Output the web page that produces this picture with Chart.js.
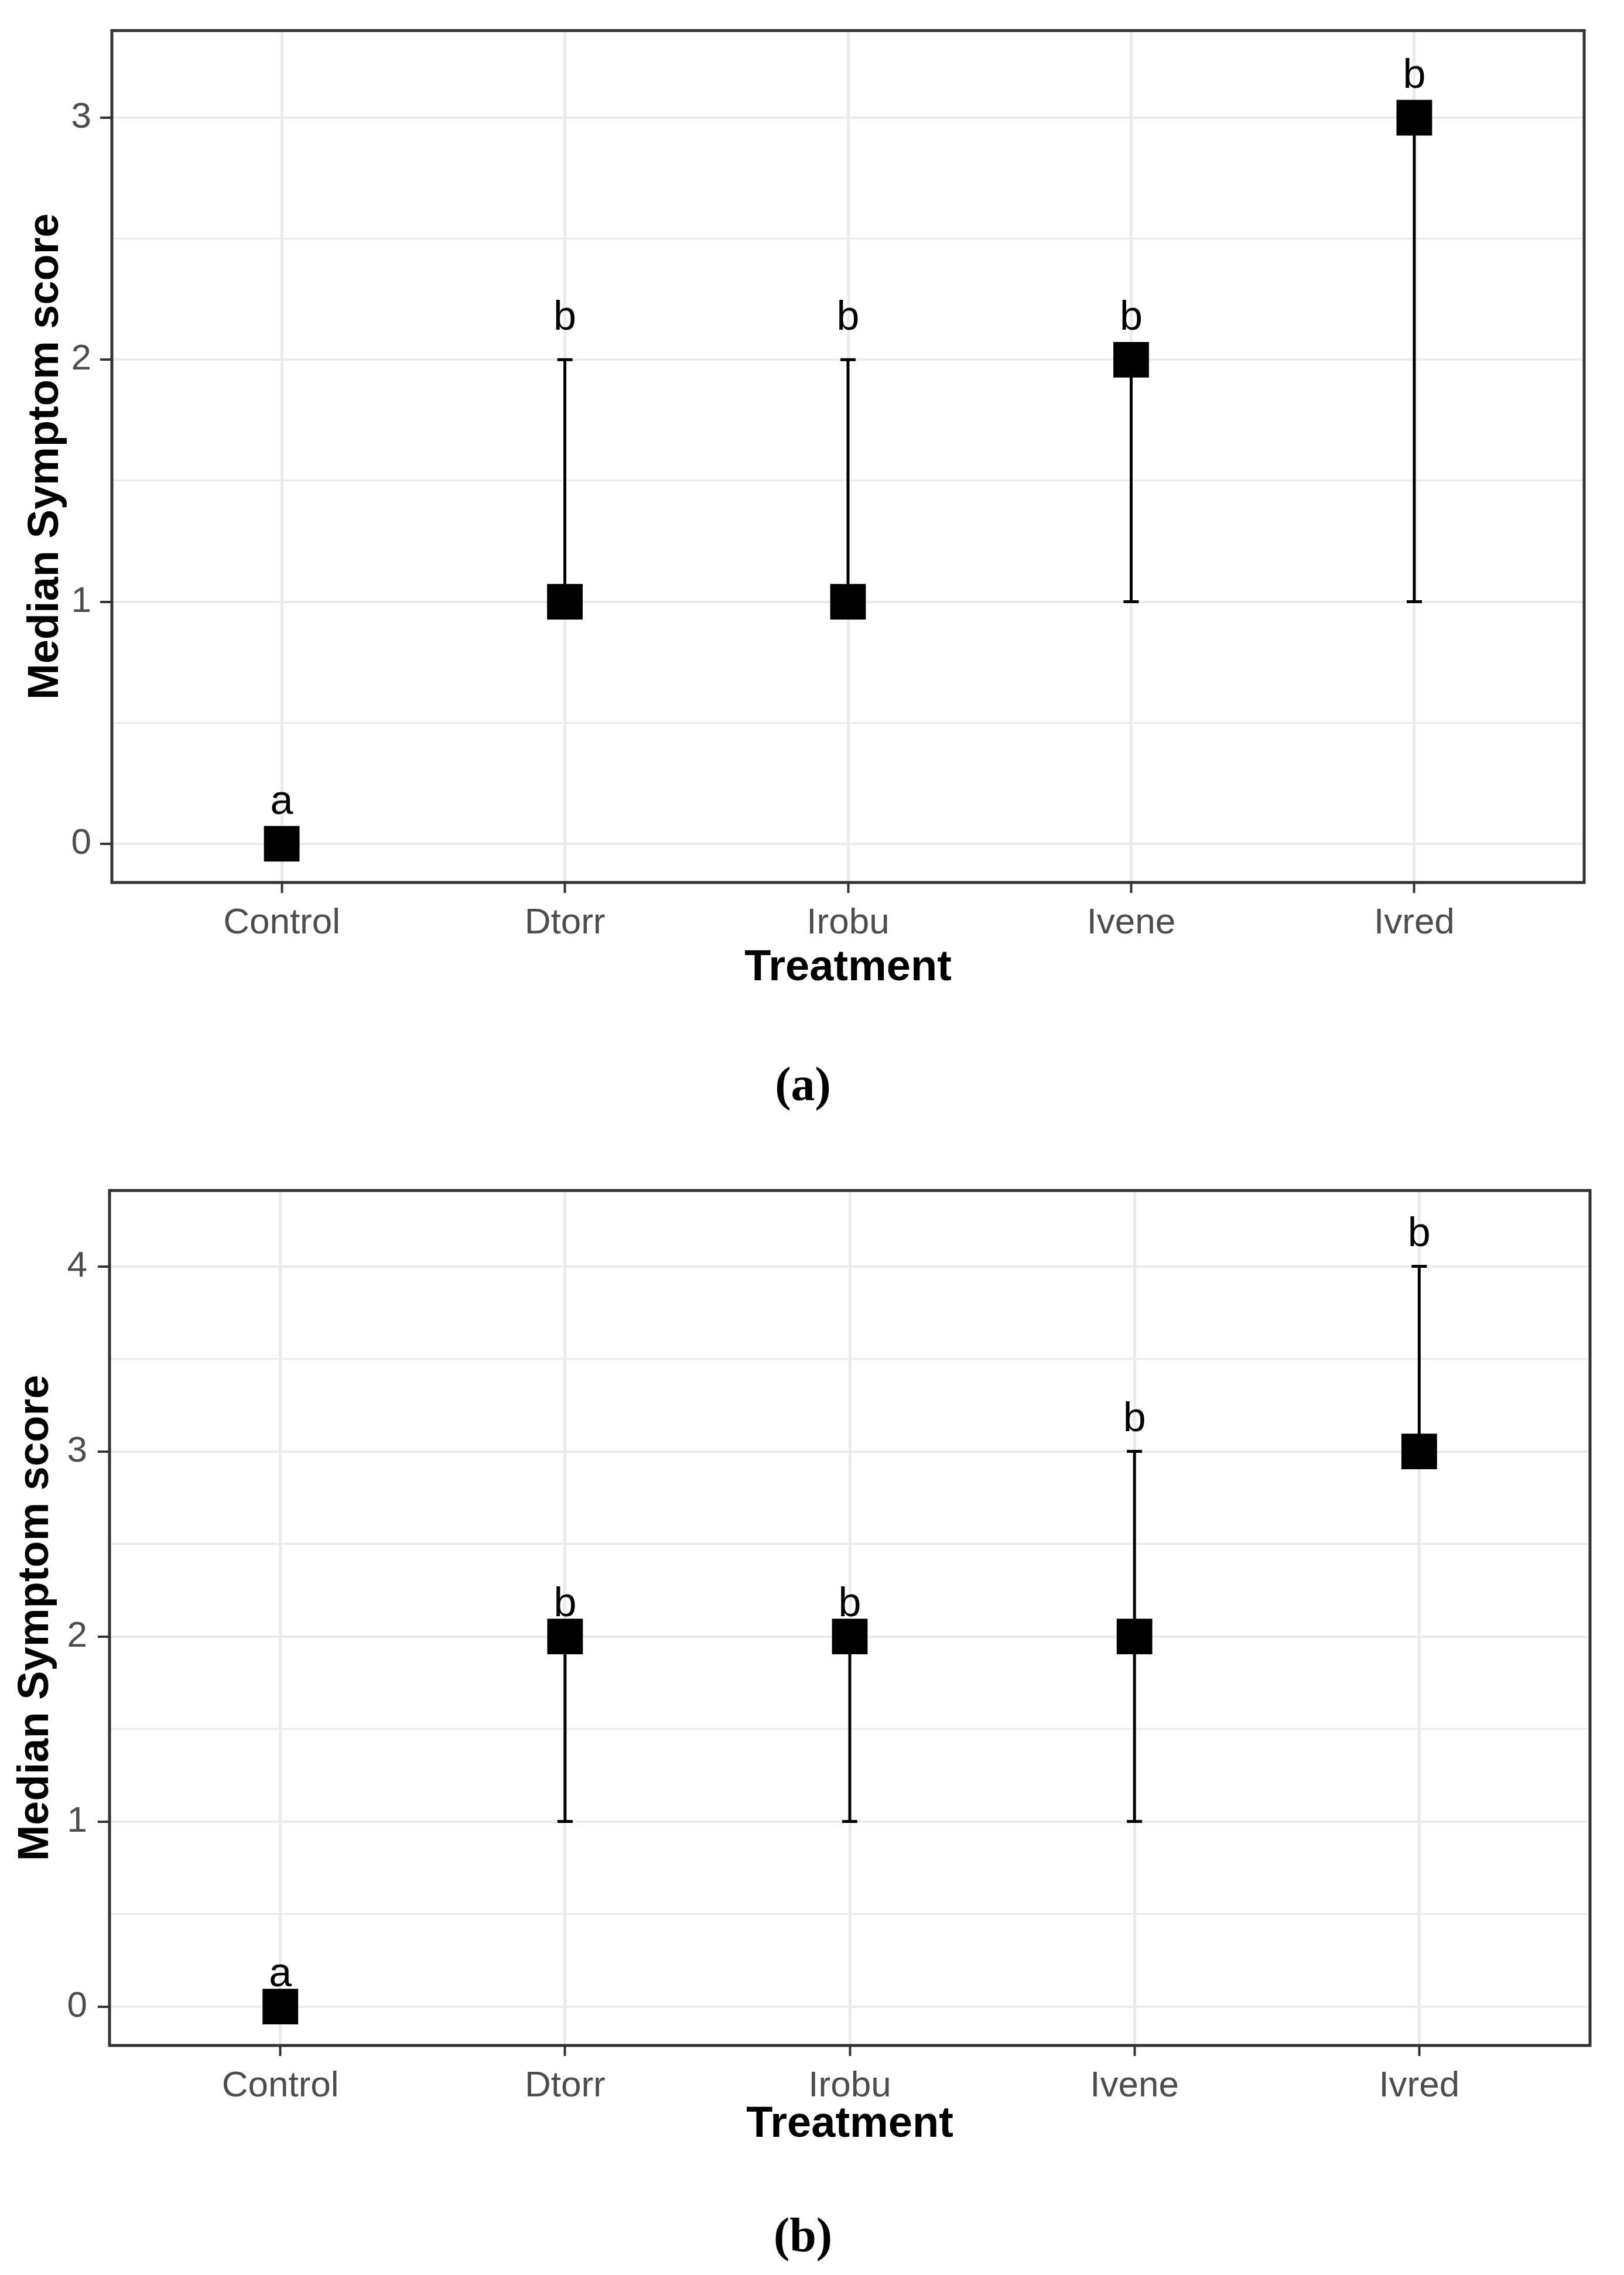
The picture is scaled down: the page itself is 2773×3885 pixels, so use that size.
<!DOCTYPE html>
<html>
<head>
<meta charset="utf-8">
<script src="https://cdn.jsdelivr.net/npm/chart.js@4.4.0/dist/chart.umd.min.js"></script>
<style>
html, body { margin: 0; padding: 0; background: #fff; }
body { width: 2773px; height: 3885px; position: relative; overflow: hidden; }
.panel { position: absolute; left: 0; }
.caption {
  position: absolute; left: 1171px; width: 400px; text-align: center;
  font-family: "Liberation Serif", "DejaVu Serif", serif; font-weight: bold;
  font-size: 82px; line-height: 96px; color: #000;
}
</style>
</head>
<body>
<canvas id="chartA" class="panel" style="top:0px"></canvas>
<div class="caption" style="top:1804px">(a)</div>
<canvas id="chartB" class="panel" style="top:1960px"></canvas>
<div class="caption" style="top:3769px">(b)</div>

<script>
// data
const treatments = ['Control', 'Dtorr', 'Irobu', 'Ivene', 'Ivred']

// panel (a)
const medianA = [0, 1, 1, 2, 3]
const lowA = [0, 1, 1, 1, 1]
const highA = [0, 2, 2, 2, 3]
const lettersA = ['a', 'b', 'b', 'b', 'b']
const letterYA = [0.17, 2.17, 2.17, 2.17, 3.17]
const gridA = [0, 0.5, 1, 1.5, 2, 2.5, 3]

// panel (b)
const medianB = [0, 2, 2, 2, 3]
const lowB = [0, 1, 1, 1, 3]
const highB = [0, 2, 2, 3, 4]
const lettersB = ['a', 'b', 'b', 'b', 'b']
const letterYB = [0.17, 2.17, 2.17, 3.17, 4.17]
const gridB = [0, 0.5, 1, 1.5, 2, 2.5, 3, 3.5, 4]

const SANS = '"Liberation Sans", Arial, sans-serif'

// error bars, letters and panel frame
const errBars = {
  id: 'errbars',
  beforeDatasetsDraw(chart, args, opts) {
    const {ctx, scales: {x, y}} = chart
    ctx.save()
    ctx.strokeStyle = '#000'
    ctx.lineWidth = 5
    opts.low.forEach((lo, i) => {
      const hi = opts.high[i]
      if (lo === hi) return
      const px = x.getPixelForValue(i + 1)
      const y1 = y.getPixelForValue(lo)
      const y2 = y.getPixelForValue(hi)
      ctx.beginPath()
      ctx.moveTo(px, y1); ctx.lineTo(px, y2)
      ctx.moveTo(px - 13, y1); ctx.lineTo(px + 13, y1)
      ctx.moveTo(px - 13, y2); ctx.lineTo(px + 13, y2)
      ctx.stroke()
    })
    ctx.restore()
  },
  afterDatasetsDraw(chart, args, opts) {
    const {ctx, scales: {x, y}} = chart
    ctx.save()
    ctx.fillStyle = '#000'
    ctx.font = '70px ' + SANS
    ctx.textAlign = 'center'
    ctx.textBaseline = 'middle'
    opts.letters.forEach((t, i) => {
      ctx.fillText(t, x.getPixelForValue(i + 1), y.getPixelForValue(opts.letterY[i]))
    })
    ctx.restore()
  },
  afterDraw(chart) {
    const {ctx, chartArea: a} = chart
    ctx.save()
    ctx.strokeStyle = '#333333'
    ctx.lineWidth = 5
    ctx.strokeRect(a.left, a.top, a.right - a.left, a.bottom - a.top)
    ctx.restore()
  }
}

const isMajor = c => c.tick && Number.isInteger(c.tick.value)

function makeChart(id, o) {
  const canvas = document.getElementById(id)
  canvas.width = 2773
  canvas.height = o.height
  canvas.style.width = '2773px'
  canvas.style.height = o.height + 'px'

  return new Chart(canvas, {
    type: 'scatter',
    data: {
      datasets: [{
        data: o.median.map((v, i) => ({x: i + 1, y: v})),
        pointStyle: 'rect',
        pointRadius: 43,
        pointHoverRadius: 43,
        pointBackgroundColor: '#000',
        pointBorderWidth: 0
      }]
    },
    options: {
      responsive: false,
      animation: false,
      devicePixelRatio: 1,
      events: [],
      layout: {padding: {top: o.padTop, right: o.padRight, left: 0, bottom: 0}},
      plugins: {
        legend: {display: false},
        tooltip: {enabled: false},
        errbars: {low: o.low, high: o.high, letters: o.letters, letterY: o.letterY}
      },
      scales: {
        x: {
          type: 'linear',
          min: 0.4,
          max: 5.6,
          afterBuildTicks: s => { s.ticks = treatments.map((t, i) => ({value: i + 1})) },
          afterFit: s => { s.height = o.xAxisH },
          border: {display: false},
          grid: {color: '#EBEBEB', lineWidth: 5, tickLength: 18, tickColor: '#333333', tickWidth: 4},
          ticks: {
            callback: v => treatments[v - 1],
            color: '#4D4D4D',
            font: {family: SANS, size: 62},
            padding: 15,
            maxRotation: 0,
            autoSkip: false
          },
          title: {
            display: true, text: 'Treatment', color: '#000',
            font: {family: SANS, size: 74, weight: 'bold'},
            padding: 0
          }
        },
        y: {
          type: 'linear',
          min: o.yMin,
          max: o.yMax,
          afterBuildTicks: s => { s.ticks = o.grid.map(v => ({value: v})) },
          afterFit: s => { s.width = o.yAxisW },
          border: {display: false},
          grid: {
            color: '#EBEBEB',
            lineWidth: c => isMajor(c) ? 4 : 3,
            tickLength: 20,
            tickColor: c => isMajor(c) ? '#333333' : 'rgba(0,0,0,0)',
            tickWidth: 4
          },
          ticks: {
            callback: v => Number.isInteger(v) ? String(v) : '',
            color: '#4D4D4D',
            font: {family: SANS, size: 62},
            padding: o.yTickPad,
            autoSkip: false
          },
          title: {
            display: true, text: 'Median Symptom score', color: '#000',
            font: {family: SANS, size: 74, weight: 'bold'},
            padding: {top: o.yTitlePad, bottom: 0}
          }
        }
      }
    },
    plugins: [errBars]
  })
}

makeChart('chartA', {
  height: 1698, padTop: 48, padRight: 68, xAxisH: 191, yAxisW: 191,
  yMin: -0.16, yMax: 3.36, yTitlePad: 34, yTickPad: 15,
  median: medianA, low: lowA, high: highA, letters: lettersA, letterY: letterYA, grid: gridA
})

makeChart('chartB', {
  height: 1713, padTop: 73, padRight: 58, xAxisH: 180, yAxisW: 187,
  yMin: -0.21, yMax: 4.41, yTitlePad: 17, yTickPad: 18,
  median: medianB, low: lowB, high: highB, letters: lettersB, letterY: letterYB, grid: gridB
})
</script>
</body>
</html>
